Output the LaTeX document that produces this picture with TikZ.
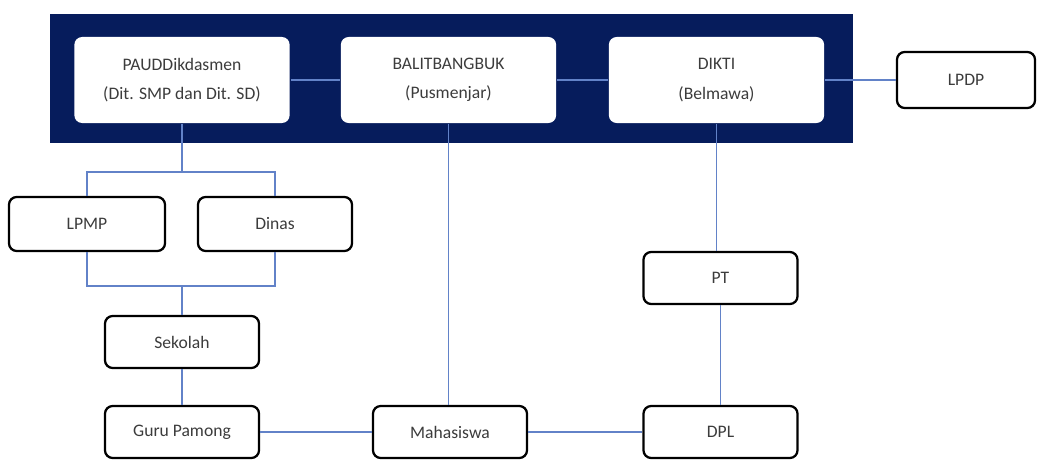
\documentclass[tikz,border=0pt]{standalone}
\usepackage{fontspec}
\setmainfont{Carlito}
\definecolor{navy}{RGB}{6,28,92}
\definecolor{linkblue}{RGB}{98,130,200}
\definecolor{txtgray}{RGB}{60,60,60}
\begin{document}
\begin{tikzpicture}[x=0.025cm,y=-0.025cm,
  unit/.style={rectangle,rounded corners=5.5pt,draw=black,line width=1.6pt,fill=white,
    text=txtgray,font=\fontsize{12.5}{15}\selectfont,minimum width=3.85cm,minimum height=1.3cm,align=center},
  topunit/.style={unit,draw=none,font=\fontsize{12.5}{21}\selectfont,minimum width=5.38cm,minimum height=2.15cm},
  link/.style={linkblue,line width=1pt}]
\useasboundingbox (0,0) rectangle (1038,461);
\fill[navy] (50,14) rectangle (853,143);
\node[topunit] (paud) at (182,80) {PAUDDikdasmen\\(Dit. SMP dan Dit. SD)};
\node[topunit] (balit) at (448.5,80) {BALITBANGBUK\\(Pusmenjar)};
\node[topunit] (dikti) at (716.5,80) {DIKTI\\(Belmawa)};
\node[unit,minimum width=3.45cm,minimum height=1.4cm] (lpdp) at (966,80) {LPDP};
\node[unit,minimum width=3.9cm,minimum height=1.35cm] (lpmp) at (87,224) {LPMP};
\node[unit,minimum width=3.85cm,minimum height=1.35cm] (dinas) at (275,224) {Dinas};
\node[unit] (sekolah) at (182,342) {Sekolah};
\node[unit] (guru) at (182,432) {Guru Pamong};
\node[unit] (mhs) at (450,432) {Mahasiswa};
\node[unit] (dpl) at (720.5,432) {DPL};
\node[unit] (pt) at (720.5,278) {PT};
\coordinate (upbar) at (182,172);
\coordinate (lowbar) at (182,286);
% top row
\draw[link] (paud) -- (balit);
\draw[link] (balit) -- (dikti);
\draw[link] (dikti) -- (lpdp);
% school side
\draw[link] (paud) -- (upbar);
\draw[link] (lpmp.north) |- (upbar) -| (dinas.north);
\draw[link] (lpmp.south) |- (lowbar) -| (dinas.south);
\draw[link] (lowbar) -- (sekolah);
\draw[link] (sekolah) -- (guru);
% university side
\draw[link] (balit) -- (balit |- mhs.north);
\draw[link] (dikti) -- (dikti |- pt.north);
\draw[link] (pt) -- (dpl);
% bottom row
\draw[link] (guru) -- (mhs);
\draw[link] (mhs) -- (dpl);
\end{tikzpicture}
\end{document}
